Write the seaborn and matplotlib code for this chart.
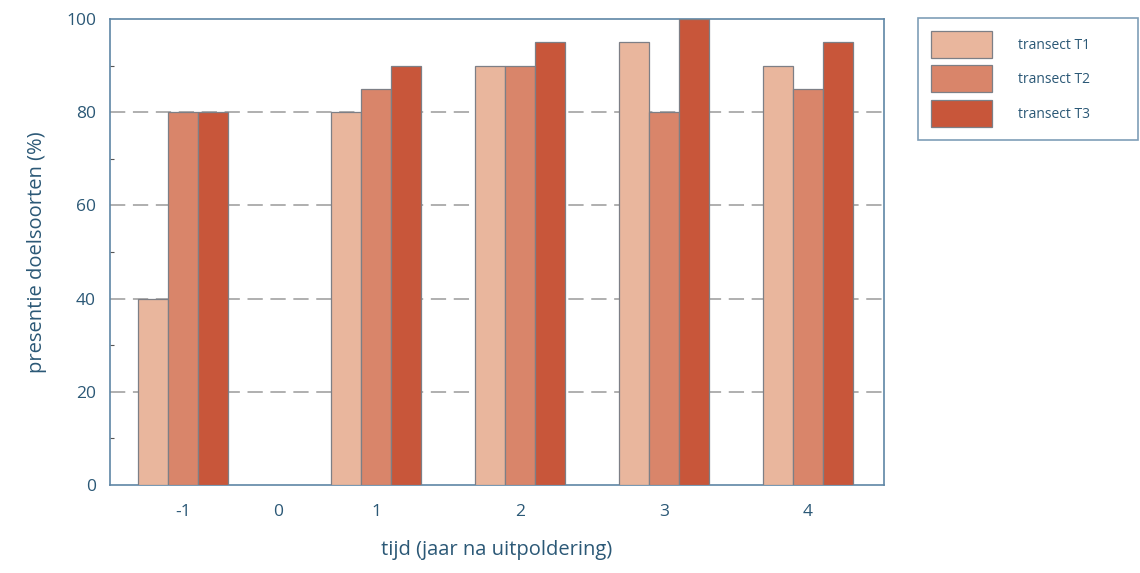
import matplotlib
matplotlib.use("Agg")
import matplotlib.pyplot as plt
import seaborn as sns
import pandas as pd
from matplotlib.ticker import MultipleLocator

# ---- data ----
years = [-1, 1, 2, 3, 4]
tick_years = [-1, 0, 1, 2, 3, 4]
t1 = [40, 80, 90, 95, 90]
t2 = [80, 85, 90, 80, 85]
t3 = [80, 90, 95, 100, 95]
series_names = ["transect T1", "transect T2", "transect T3"]
colors = ["#e9b69d", "#d9856a", "#c8563a"]

# layout: uneven spacing of the year slots as in the reference
slot_pos = {-1: -0.34, 0: 0.32, 1: 1.0, 2: 2.0, 3: 3.0, 4: 4.0}

rows = []
for name, vals in zip(series_names, [t1, t2, t3]):
    for y, v in zip(years, vals):
        rows.append({"pos": slot_pos[y], "value": v, "transect": name})
df = pd.DataFrame(rows)

sns.set_theme(style="white")
plt.rcParams["font.family"] = ["Open Sans", "DejaVu Sans"]

text_col = "#2b5876"
frame_col = "#5f86a6"

fig = plt.figure(figsize=(11.4, 5.73), dpi=100)
ax = fig.add_axes([0.0965, 0.1536, 0.6789, 0.8132])

sns.barplot(data=df, x="pos", y="value", hue="transect", hue_order=series_names,
            palette=colors, saturation=1, native_scale=True, width=0.625, gap=0,
            errorbar=None, edgecolor="#7d7f86", linewidth=0.9, ax=ax, zorder=3)

ax.set_xlim(-0.847, 4.528)
ax.set_ylim(0, 100)
ax.set_xticks([slot_pos[y] for y in tick_years])
ax.set_xticklabels([str(y) for y in tick_years])
ax.set_yticks([0, 20, 40, 60, 80, 100])
ax.yaxis.set_minor_locator(MultipleLocator(10))
ax.tick_params(axis="x", length=0, pad=14, labelsize=12.5, labelcolor=text_col)
ax.tick_params(axis="y", which="major", length=0, pad=10, labelsize=12.5, labelcolor=text_col)
ax.tick_params(axis="y", which="minor", left=True, direction="in", length=3,
               width=0.8, color="#555555")

for g in [20, 40, 60, 80]:
    ax.axhline(g, color="#9a9a9a", linestyle=(0, (10, 5)), linewidth=1.1, zorder=1)

for sp in ax.spines.values():
    sp.set_color(frame_col)
    sp.set_linewidth(1.2)

ax.set_xlabel("tijd (jaar na uitpoldering)", fontsize=14.5, color=text_col, labelpad=14)
ax.set_ylabel("presentie doelsoorten (%)", fontsize=14.5, color=text_col, labelpad=14)

handles, labels = ax.get_legend_handles_labels()
if ax.get_legend() is not None:
    ax.get_legend().remove()
leg = fig.legend(handles, labels, loc="upper left",
                 bbox_to_anchor=(0.805, 0.756, 0.193, 0.213), mode="expand",
                 frameon=True, fancybox=False, fontsize=10,
                 handlelength=4.4, handleheight=2.6, labelspacing=0.55,
                 handletextpad=1.9, borderpad=0.95, borderaxespad=0)
leg.get_frame().set_edgecolor(frame_col)
leg.get_frame().set_linewidth(1.2)
for t in leg.get_texts():
    t.set_color(text_col)

fig.savefig("out.png", dpi=100)
